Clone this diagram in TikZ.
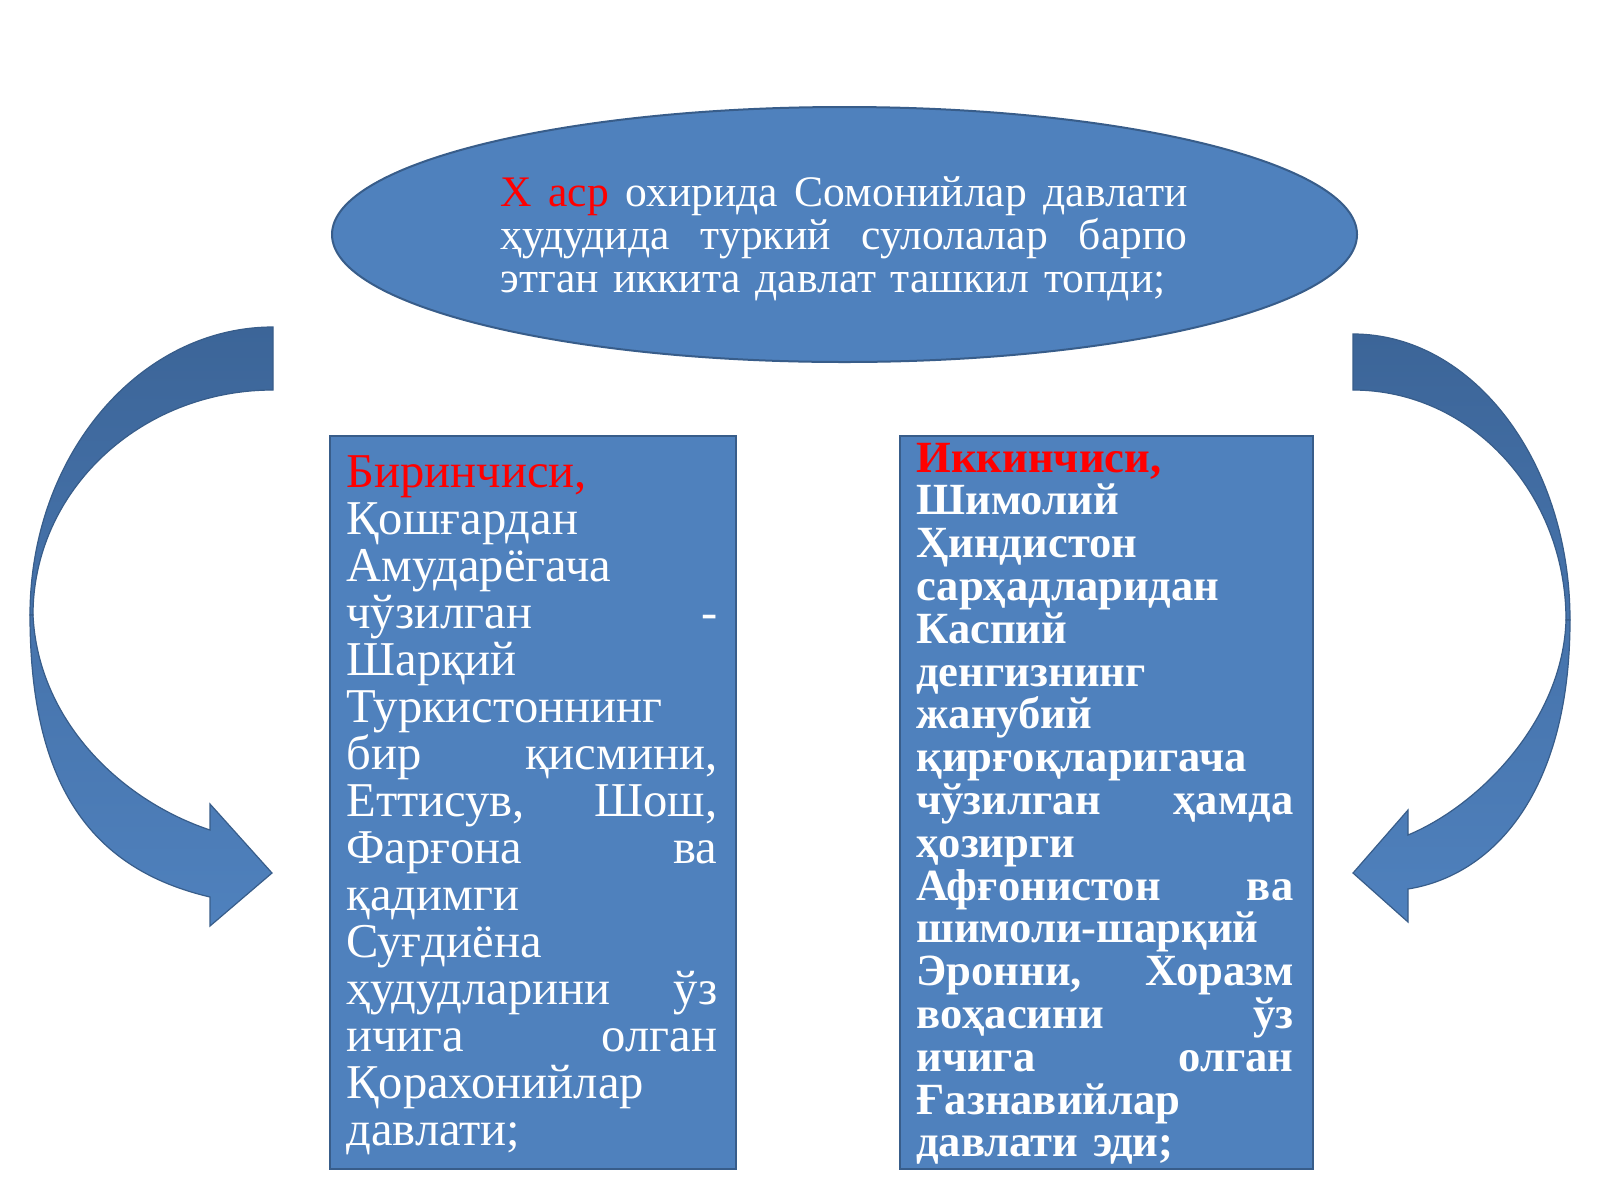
\documentclass[tikz,border=0pt]{standalone}
\usepackage{fontspec}
\setmainfont{Liberation Serif}
\usetikzlibrary{shapes.geometric}
\definecolor{boxblue}{HTML}{4F81BD}
\definecolor{edgeblue}{HTML}{385D8A}
\definecolor{darkarrow}{HTML}{3C6598}
\definecolor{midarrow}{HTML}{4673AB}
\definecolor{redtext}{HTML}{FF0000}
\newcommand{\fullline}[1]{\makebox[\linewidth][s]{\spaceskip=0.3333em plus 1fil minus 0.12em\relax #1}}
\tikzset{
  panel/.style={draw=edgeblue, line width=1pt, fill=boxblue, inner sep=0pt},
  arrowback/.style={draw=edgeblue, line width=0.6pt, top color=darkarrow, bottom color=midarrow},
  arrowfront/.style={draw=edgeblue, line width=0.6pt, top color=midarrow, bottom color=boxblue},
  txt/.style={text=white, inner sep=0pt, anchor=base west, align=left},
}
\begin{document}
\begin{tikzpicture}[x=0.5pt, y=-0.5pt]
\useasboundingbox (0,0) rectangle (1600,1200);
\fill[white] (0,0) rectangle (1600,1200);

% top ellipse
\node[panel, ellipse, minimum width=512.5pt, minimum height=127.5pt] (top) at (844.5,234.5) {};
\node[txt, text width=343.5pt, font=\fontsize{21.8pt}{21.5pt}\selectfont] (toptext) at (500,206) {%
\fullline{{\color{redtext}X аср} охирида Сомонийлар давлати}\\
\fullline{ҳудудида туркий сулолалар барпо}\\
этган иккита давлат ташкил топди;};

% boxes
\node[panel, rectangle, anchor=north west, minimum width=203pt, minimum height=366.5pt] (leftbox) at (329,435) {};
\node[panel, rectangle, anchor=north west, minimum width=206.5pt, minimum height=366.5pt] (rightbox) at (899,435) {};

\node[txt, text width=185.5pt, font=\fontsize{24.3pt}{23.5pt}\selectfont] (lefttext) at (346,487) {%
{\color{redtext}Биринчиси,}\\
Қошғардан\\
Амударёгача\\
\fullline{чўзилган -}\\
Шарқий\\
Туркистоннинг\\
\fullline{бир қисмини,}\\
\fullline{Еттисув, Шош,}\\
\fullline{Фарғона ва}\\
қадимги\\
Суғдиёна\\
\fullline{ҳудудларини ўз}\\
\fullline{ичига олган}\\
Қорахонийлар\\
давлати;};

\node[txt, text width=188.5pt, font=\bfseries\fontsize{22.3pt}{21.4pt}\selectfont] (righttext) at (916,472) {%
{\color{redtext}Иккинчиси,}\\
Шимолий\\
Ҳиндистон\\
сарҳадларидан\\
Каспий\\
денгизнинг\\
жанубий\\
қирғоқларигача\\
\fullline{чўзилган ҳамда}\\
ҳозирги\\
\fullline{Афғонистон ва}\\
шимоли-шарқий\\
\fullline{Эронни, Хоразм}\\
\fullline{воҳасини ўз}\\
\fullline{ичига олган}\\
Ғазнавийлар\\
давлати эди;};

% left curved arrow
\path[arrowback] (273,327) .. controls (139,327) and (30,456) .. (30,615)
  -- (33,615) .. controls (33,491) and (140,390) .. (273,390) -- cycle;
\path[arrowfront] (30,615) .. controls (30,790) and (95,870) .. (210,897)
  -- (210,926) -- (272,873) -- (210,804) -- (210,830)
  .. controls (120,800) and (38,720) .. (33,615) -- cycle;

% right curved arrow
\path[arrowback] (1353,334) .. controls (1473,334) and (1570,462) .. (1570,620)
  -- (1566,620) .. controls (1566,493) and (1471,390) .. (1353,390) -- cycle;
\path[arrowfront] (1570,620) .. controls (1570,790) and (1495,875) .. (1408,889)
  -- (1408,922) -- (1353,873) -- (1408,810) -- (1408,835)
  .. controls (1480,805) and (1563,720) .. (1566,620) -- cycle;
\end{tikzpicture}
\end{document}
